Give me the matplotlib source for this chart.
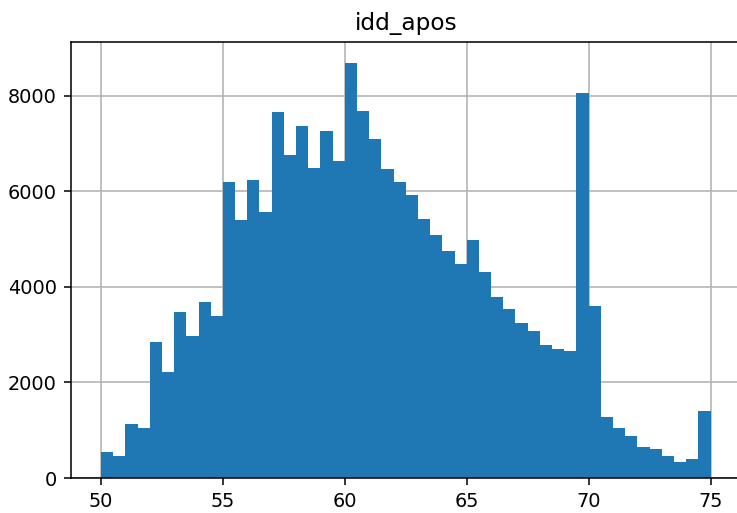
import matplotlib
matplotlib.use("Agg")
import matplotlib.pyplot as plt
import numpy as np

bin_edges = np.linspace(50, 75, 51)
counts = [550, 465, 1140, 1055, 2850, 2220, 3475, 2975, 3690, 3390,
          6190, 5400, 6235, 5570, 7660, 6750, 7370, 6495, 7270, 6630,
          8690, 7690, 7095, 6465, 6205, 5920, 5410, 5075, 4745, 4485,
          4990, 4320, 3782, 3527, 3235, 3067, 2774, 2690, 2648, 8049,
          3610, 1268, 1052, 885, 641, 599, 467, 341, 390, 1394]
title = "idd_apos"

s = 1.39
fig = plt.figure(figsize=(7.37, 5.13), dpi=100)
W, H = 737, 513
left, right, top, bottom = 70.5, 741, 42, 478
ax = fig.add_axes([left / W, (H - bottom) / H, (right - left) / W, (bottom - top) / H])
ax.hist(bin_edges[:-1], bins=bin_edges, weights=counts, color="#1f77b4")
ax.grid(True, color="#b0b0b0", linewidth=0.8 * s)
ax.set_axisbelow(True)
ax.set_title(title, fontsize=12 * s, pad=6 * s)
ax.tick_params(labelsize=10 * s, length=3.5 * s, width=0.8 * s, pad=3.5 * s)
for sp in ax.spines.values():
    sp.set_linewidth(0.8 * s)
ax.spines["right"].set_visible(False)
fig.savefig("out.png", dpi=100)
